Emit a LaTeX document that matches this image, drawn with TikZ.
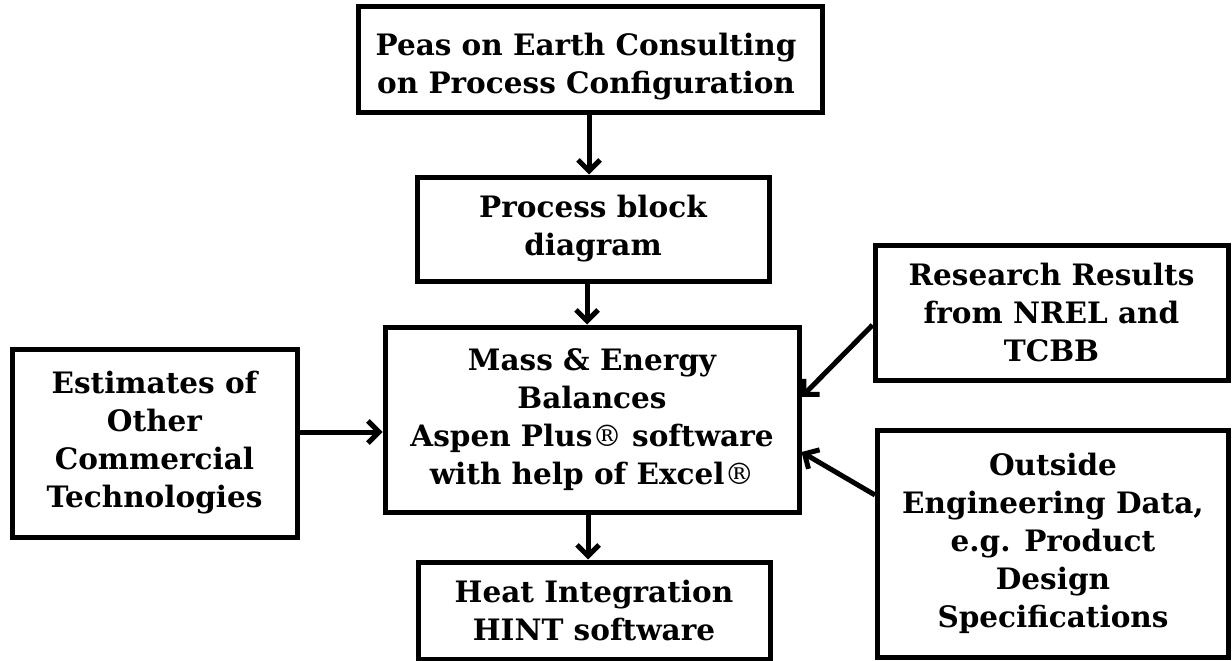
\documentclass[tikz,border=0pt]{standalone}
\usepackage{fontspec}
\setmainfont{DejaVu Serif}
\newfontfamily\regfont{DejaVu Serif}
\usetikzlibrary{arrows.meta}
\newcommand{\reg}{{\regfont\mdseries\char"00AE}}
\tikzset{
  lbl/.style={inner sep=0pt, align=center, font=\bfseries\fontsize{29.5}{38}\selectfont},
  box/.style={lbl, draw, line width=5pt},
  arr/.style={line width=5pt, -{Straight Barb[length=11pt,width=22pt,line width=5pt]}}
}
\begin{document}
\begin{tikzpicture}[x=1pt,y=-1pt]
\useasboundingbox (0,0) rectangle (1232,661);
\node[box, minimum width=464pt, minimum height=105pt] (top) at (590,59.5) {};
\node[lbl] (toplbl) at (586,67) {Peas on Earth Consulting\\on Process Configuration};
\node[box, minimum width=352pt, minimum height=104pt] (proc) at (593,229) {Process block\\diagram};
\node[box, minimum width=414pt, minimum height=185pt] (main) at (592,419.5) {Mass \& Energy\\Balances\\Aspen Plus\reg{} software\\with help of Excel\reg};
\node[box, minimum width=352pt, minimum height=97pt] (heat) at (594,610.5) {Heat Integration\\HINT software};
\node[box, minimum width=285pt, minimum height=188pt] (left) at (154.5,443) {Estimates of\\Other\\Commercial\\Technologies};
\node[box, minimum width=353pt, minimum height=135pt] (res) at (1051.5,312.5) {Research Results\\from NREL and\\TCBB};
\node[box, minimum width=351pt, minimum height=227pt] (out) at (1053,543.5) {Outside\\Engineering Data,\\e.g. Product\\Design\\Specifications};
\coordinate (c1) at (589,0);
\coordinate (c2) at (587,0);
\coordinate (c3) at (588,0);
\draw[arr] (top.south -| c1) -- (proc.north -| c1);
\draw[arr] (proc.south -| c2) -- (main.north -| c2);
\draw[arr] (main.south -| c3) -- (heat.north -| c3);
\draw[arr] ([yshift=11pt]left.east) -- ([yshift=11pt]left.east -| main.west);
\draw[arr] ([yshift=-12.5pt]res.west) -- ([yshift=22.5pt]main.east);
\draw[arr] ([yshift=48.5pt]out.west) -- ([yshift=-32.5pt]main.east);
\end{tikzpicture}
\end{document}
